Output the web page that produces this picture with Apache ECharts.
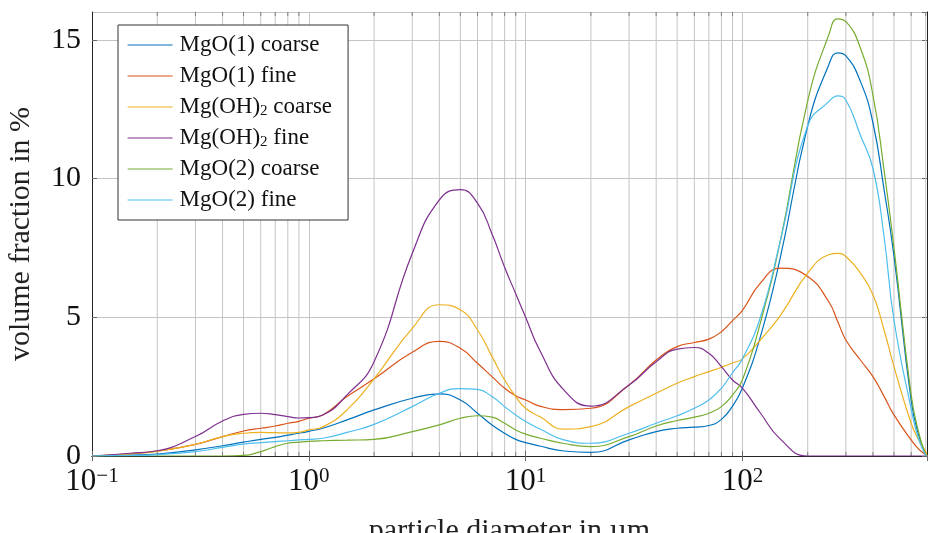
<!DOCTYPE html>
<html>
<head>
<meta charset="utf-8">
<title>Particle size distribution</title>
<script src="https://cdn.jsdelivr.net/npm/echarts@6/dist/echarts.min.js"></script>
<style>
  html, body { margin: 0; padding: 0; background: #fff; }
  #chart { width: 928px; height: 533px; }
</style>
</head>
<body>
<div id="chart"></div>
<script>
// particle diameters in µm (shared sample points)
const diameters = [0.1, 0.15, 0.2, 0.3, 0.4, 0.5, 0.6, 0.7, 0.8, 0.9, 1.0, 1.16, 1.5, 2, 3, 4, 5, 6, 7, 8, 9, 10, 11.6, 15, 20, 30, 40, 50, 60, 70, 80, 90, 100, 121, 150, 200, 250, 275, 300, 350, 400, 450, 500, 600, 650, 700, 710];

// volume fraction in % per sample
const mgo1Coarse  = [0, 0.03, 0.07, 0.22, 0.37, 0.50, 0.60, 0.67, 0.75, 0.82, 0.89, 1.0, 1.30, 1.66, 2.08, 2.24, 2.02, 1.54, 1.12, 0.82, 0.60, 0.48, 0.36, 0.18, 0.13, 0.58, 0.88, 1.0, 1.04, 1.10, 1.32, 1.80, 2.45, 4.3, 7.2, 11.9, 14.09, 14.53, 14.42, 13.5, 12.0, 9.6, 7.2, 2.0, 0.75, 0.05, 0];
const mgo1Fine    = [0, 0.08, 0.18, 0.42, 0.70, 0.90, 1.0, 1.08, 1.18, 1.25, 1.36, 1.48, 2.14, 2.78, 3.74, 4.13, 3.88, 3.34, 2.86, 2.44, 2.17, 2.02, 1.80, 1.67, 1.72, 2.56, 3.46, 3.94, 4.09, 4.21, 4.48, 4.88, 5.25, 6.23, 6.77, 6.47, 5.56, 4.85, 4.18, 3.46, 2.86, 2.15, 1.48, 0.58, 0.25, 0.04, 0];
const mgoh2Coarse = [0, 0.08, 0.17, 0.42, 0.70, 0.82, 0.85, 0.84, 0.83, 0.85, 0.94, 1.05, 1.66, 2.78, 4.6, 5.45, 5.27, 4.54, 3.58, 2.74, 2.14, 1.72, 1.42, 0.97, 1.06, 1.78, 2.26, 2.62, 2.86, 3.04, 3.2, 3.35, 3.5, 4.18, 5.08, 6.59, 7.25, 7.3, 7.19, 6.59, 5.81, 4.54, 3.22, 1.18, 0.58, 0.16, 0];
const mgoh2Fine   = [0, 0.1, 0.19, 0.70, 1.26, 1.50, 1.54, 1.49, 1.42, 1.37, 1.38, 1.48, 2.2, 3.4, 7.3, 9.23, 9.6, 9.11, 8.0, 6.8, 5.85, 5.0, 3.82, 2.38, 1.80, 2.56, 3.40, 3.85, 3.91, 3.70, 3.22, 2.74, 2.45, 1.55, 0.6, 0, 0, 0, 0, 0, 0, 0, 0, 0, 0, 0, 0];
const mgo2Coarse  = [0, 0, 0, 0, 0, 0.02, 0.16, 0.34, 0.46, 0.50, 0.53, 0.55, 0.57, 0.60, 0.88, 1.12, 1.36, 1.45, 1.40, 1.18, 0.94, 0.79, 0.65, 0.45, 0.34, 0.70, 1.08, 1.28, 1.40, 1.54, 1.78, 2.2, 2.75, 4.8, 7.8, 12.8, 15.17, 15.75, 15.65, 14.7, 13.0, 10.3, 7.5, 2.2, 0.85, 0.05, 0];
const mgo2Fine    = [0, 0.02, 0.05, 0.16, 0.31, 0.43, 0.48, 0.52, 0.55, 0.58, 0.60, 0.64, 0.85, 1.14, 1.78, 2.26, 2.43, 2.40, 2.14, 1.78, 1.48, 1.24, 0.98, 0.58, 0.46, 0.82, 1.18, 1.45, 1.72, 2.02, 2.44, 3.0, 3.5, 5.0, 7.8, 11.9, 12.77, 12.98, 12.83, 11.56, 10.36, 7.9, 4.9, 1.7, 0.6, 0.03, 0];

// minor decade positions for the logarithmic grid
const minorTicks = [0.2, 0.3, 0.4, 0.5, 0.6, 0.7, 0.8, 0.9, 2, 3, 4, 5, 6, 7, 8, 9, 20, 30, 40, 50, 60, 70, 80, 90, 200, 300, 400, 500, 600, 700];
const yTicks = [0, 5, 10, 15];

const seriesDefs = [
  { name: 'MgO(1) coarse',  label: 'MgO(1) coarse',      color: '#0072BD', values: mgo1Coarse },
  { name: 'MgO(1) fine',    label: 'MgO(1) fine',        color: '#D95319', values: mgo1Fine },
  { name: 'Mg(OH)2 coarse', label: 'Mg(OH){s|2} coarse', color: '#EDB120', values: mgoh2Coarse },
  { name: 'Mg(OH)2 fine',   label: 'Mg(OH){s|2} fine',   color: '#7E2F8E', values: mgoh2Fine },
  { name: 'MgO(2) coarse',  label: 'MgO(2) coarse',      color: '#77AC30', values: mgo2Coarse },
  { name: 'MgO(2) fine',    label: 'MgO(2) fine',        color: '#4DBEEE', values: mgo2Fine }
];

const FONT = '"Liberation Serif", "DejaVu Serif", serif';
const X_MIN = 0.1, X_MAX = 710, Y_MIN = 0, Y_MAX = 16;

const chart = echarts.init(document.getElementById('chart'), null, { renderer: 'canvas' });

function powLabel(v) {
  const l = Math.log10(v);
  const e = Math.round(l);
  if (Math.abs(l - e) > 1e-6) return '';
  const exp = e < 0 ? '\u2212' + (-e) : String(e);
  return '{b|10}{s|' + exp + '}';
}

const lineSeries = seriesDefs.map(s => ({
  name: s.name,
  type: 'line',
  xAxisIndex: 0,
  yAxisIndex: 0,
  data: diameters.map((d, i) => [d, s.values[i]]),
  symbol: 'none',
  smooth: 0.5,
  lineStyle: { color: s.color, width: 1.2 },
  itemStyle: { color: s.color },
  z: 3
}));

// minor grid lines with inward ticks on both horizontal frame edges
const minorGrid = {
  type: 'custom',
  xAxisIndex: 0,
  yAxisIndex: 0,
  silent: true,
  z: 1,
  data: minorTicks.map(x => [x, Y_MIN]),
  encode: { x: 0, y: 1 },
  renderItem: function (params, api) {
    const x = api.value(0);
    const b = api.coord([x, Y_MIN]);
    const t = api.coord([x, Y_MAX]);
    return {
      type: 'group',
      children: [
        { type: 'line', shape: { x1: b[0], y1: b[1], x2: t[0], y2: t[1] },
          style: { stroke: '#c4c4c4', lineWidth: 1 } },
        { type: 'line', shape: { x1: b[0], y1: b[1], x2: b[0], y2: b[1] - 4 },
          style: { stroke: '#808080', lineWidth: 1 } },
        { type: 'line', shape: { x1: t[0], y1: t[1], x2: t[0], y2: t[1] + 4 },
          style: { stroke: '#808080', lineWidth: 1 } }
      ]
    };
  }
};

const option = {
  animation: false,
  backgroundColor: '#fff',
  textStyle: { fontFamily: FONT },
  grid: { left: 92, right: 1, top: 12, bottom: 77, containLabel: false, outerBoundsMode: 'none' },
  legend: {
    data: seriesDefs.map(s => s.name),
    orient: 'vertical',
    left: 118,
    top: 25,
    padding: [8, 16, 8, 9],
    itemGap: 7,
    itemWidth: 45,
    itemHeight: 24,
    backgroundColor: '#fff',
    borderColor: '#333',
    borderWidth: 1,
    itemStyle: { opacity: 0 },
    lineStyle: { width: 1.2 },
    formatter: function (name) {
      const def = seriesDefs.find(s => s.name === name);
      return def ? def.label : name;
    },
    textStyle: {
      fontFamily: FONT,
      fontSize: 23,
      lineHeight: 24,
      color: '#111',
      padding: [0, 0, 0, 2],
      rich: {
        s: { fontFamily: FONT, fontSize: 15, lineHeight: 14, verticalAlign: 'bottom', color: '#111' }
      }
    }
  },
  xAxis: [
    {
      type: 'log',
      logBase: 10,
      min: X_MIN,
      max: X_MAX,
      position: 'bottom',
      name: 'particle diameter in \u00b5m',
      nameLocation: 'middle',
      nameGap: 60,
      nameTextStyle: { fontFamily: FONT, fontSize: 30, color: '#222' },
      axisLine: { show: true, lineStyle: { color: '#222', width: 1 } },
      axisTick: { show: true, inside: true, length: 5, lineStyle: { color: '#666' } },
      axisLabel: {
        margin: 10,
        showMinLabel: true,
        showMaxLabel: false,
        formatter: powLabel,
        rich: {
          b: { fontFamily: FONT, fontSize: 31, lineHeight: 32, color: '#111' },
          s: { fontFamily: FONT, fontSize: 21, lineHeight: 18, verticalAlign: 'top', color: '#111' }
        }
      },
      splitLine: { show: true, lineStyle: { color: '#c4c4c4', width: 1 } }
    },
    {
      type: 'log',
      logBase: 10,
      min: X_MIN,
      max: X_MAX,
      position: 'top',
      axisLine: { show: true, lineStyle: { color: '#222', width: 1 } },
      axisTick: { show: true, inside: true, length: 5, lineStyle: { color: '#666' } },
      axisLabel: { show: false },
      splitLine: { show: false }
    }
  ],
  yAxis: [
    {
      type: 'value',
      min: Y_MIN,
      max: Y_MAX,
      interval: 5,
      position: 'left',
      name: 'volume fraction in %',
      nameLocation: 'middle',
      nameGap: 56,
      nameRotate: 90,
      nameTextStyle: { fontFamily: FONT, fontSize: 30, color: '#222' },
      axisLine: { show: true, lineStyle: { color: '#222', width: 1 } },
      axisTick: { show: true, inside: true, length: 5, lineStyle: { color: '#666' } },
      axisLabel: {
        margin: 11,
        showMaxLabel: false,
        fontFamily: FONT,
        fontSize: 30,
        color: '#111',
        formatter: function (v) { return yTicks.indexOf(v) >= 0 ? String(v) : ''; }
      },
      splitLine: { show: true, lineStyle: { color: '#c4c4c4', width: 1 } }
    },
    {
      type: 'value',
      min: Y_MIN,
      max: Y_MAX,
      interval: 5,
      position: 'right',
      axisLine: { show: true, lineStyle: { color: '#222', width: 1 } },
      axisTick: { show: true, inside: true, length: 5, lineStyle: { color: '#666' } },
      axisLabel: { show: false },
      splitLine: { show: false }
    }
  ],
  series: [minorGrid].concat(lineSeries)
};

chart.setOption(option);
</script>
</body>
</html>
